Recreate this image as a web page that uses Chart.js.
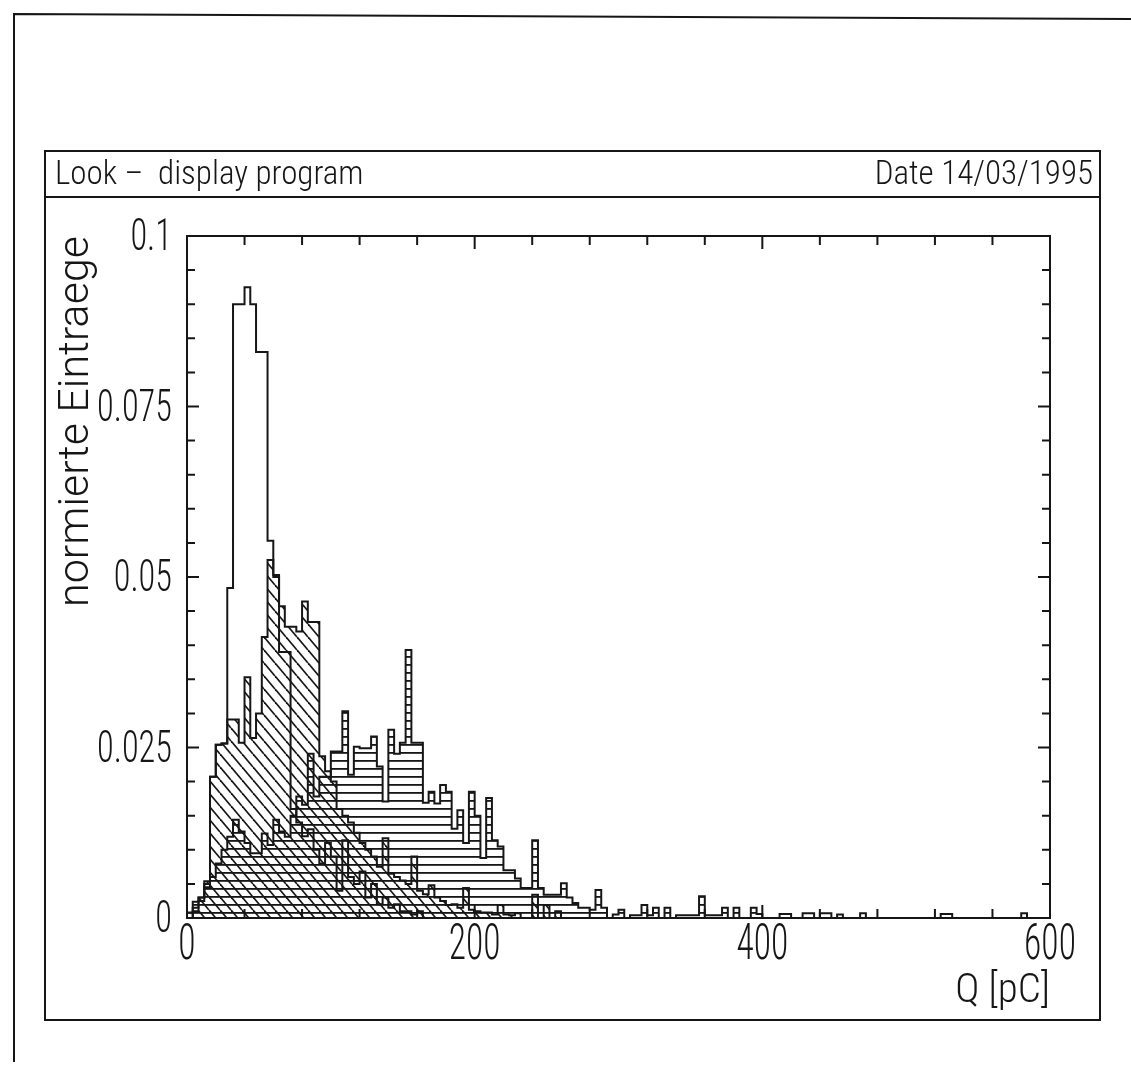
<!DOCTYPE html>
<html><head><meta charset="utf-8">
<script src="https://cdn.jsdelivr.net/npm/chart.js@4.4.1/dist/chart.umd.min.js"></script>
<style>
html,body{margin:0;padding:0;background:#fff;}
#wrap{position:relative;width:1131px;height:1074px;overflow:hidden;background:#fff;}
#c{position:absolute;left:0;top:0;}
.t{position:absolute;font-family:'Roboto Condensed','DejaVu Sans Condensed',sans-serif;font-weight:300;color:#161616;white-space:pre;line-height:1;font-size:33px;top:156px;}
</style></head><body>
<div id="wrap">
<canvas id="c" width="1131" height="1074"></canvas>
<div class="t" style="left:55px;">Look –  display program</div>
<div class="t" style="right:38px;">Date 14/03/1995</div>
</div>
<script>
// ---- data: three normalised histograms, bin width 4 pC, 150 bins (0 .. 600 pC) ----
const BIN_WIDTH = 4;
const X_TICKS = [0, 200, 400, 600];
const Y_TICKS = [0, 0.025, 0.05, 0.075, 0.1];
// open (unhatched) histogram
const seriesOpen = [
0,0.0015,0.0025,0.0050,0.0207,0.0254,0.0256,0.0484,0.0900,0.0900,
0.0925,0.0900,0.0830,0.0830,0.0553,0.0500,0.0390,0.0390,0.0160,0.0140,
0.0120,0.0130,0.0100,0.0080,0.0110,0.0090,0.0040,0.0114,0.0060,0.0050,
0.0068,0.0030,0.0050,0.0020,0.0030,0.0015,0.0020,0.0010,0.0010,0.0005,
0.0010,0,0,0,0,0,0,0,0,0,
0,0,0,0,0,0,0,0,0,0, 0,0,0,0,0,0,0,0,0,0, 0,0,0,0,0,0,0,0,0,0,
0,0,0,0,0,0,0,0,0,0, 0,0,0,0,0,0,0,0,0,0, 0,0,0,0,0,0,0,0,0,0,
0,0,0,0,0,0,0,0,0,0, 0,0,0,0,0,0,0,0,0,0, 0,0,0,0,0,0,0,0,0,0,
0,0,0,0,0,0,0,0,0,0
];
// diagonally hatched histogram
const seriesDiag = [
0,0.0010,0.0030,0.0054,0.0207,0.0254,0.0256,0.0291,0.0291,0.0257,
0.0353,0.0264,0.0300,0.0412,0.0525,0.0503,0.0457,0.0427,0.0427,0.0420,
0.0464,0.0434,0.0434,0.0237,0.0215,0.0200,0.0160,0.0150,0.0140,0.0125,
0.0110,0.0100,0.0090,0.0075,0.0117,0.0065,0.0060,0.0055,0.0050,0.0090,
0.0040,0.0035,0.0048,0.0030,0.0025,0.0019,0.0020,0.0015,0.0044,0.0012,
0.0010,0.0008,0.0008,0.0005,0.0019,0.0005,0.0004,0.0007,0,0,
0.0034,0,0.0019,0,0.0010,0,0,0,0,0,
0,0,0,0,0,0,0,0,0,0, 0,0,0,0,0,0,0,0,0,0, 0,0,0,0,0,0,0,0,0,0,
0,0,0,0,0,0,0,0,0,0, 0,0,0,0,0,0,0,0,0,0, 0,0,0,0,0,0,0,0,0,0,
0,0,0,0,0,0,0,0,0,0, 0,0,0,0,0,0,0,0,0,0
];
// horizontally hatched histogram
const seriesHoriz = [
0.0008,0.0024,0.0030,0.0045,0.0060,0.0080,0.0100,0.0119,0.0144,0.0127,
0.0110,0.0095,0.0095,0.0124,0.0107,0.0144,0.0127,0.0119,0.0150,0.0178,
0.0166,0.0241,0.0178,0.0207,0.0207,0.0244,0.0244,0.0303,0.0210,0.0251,
0.0249,0.0249,0.0266,0.0222,0.0171,0.0276,0.0241,0.0257,0.0393,0.0257,
0.0257,0.0169,0.0185,0.0168,0.0195,0.0185,0.0131,0.0158,0.0110,0.0185,
0.0150,0.0088,0.0176,0.0114,0.0105,0.0070,0.0070,0.0058,0.0044,0.0044,
0.0114,0.0044,0.0034,0.0034,0.0034,0.0051,0.0030,0.0022,0.0015,0.0015,
0.0012,0.0041,0.0015,0,0.0005,0.0012,0,0.0004,0.0004,0.0019,
0.0004,0.0015,0,0.0015,0,0.0004,0.0004,0.0004,0.0004,0.0032,
0.0004,0.0004,0.0004,0.0015,0,0.0015,0,0,0.0015,0.0006,
0,0,0,0.0006,0.0006,0,0,0.0007,0.0007,0,
0.0007,0.0007,0,0.0005,0,0,0,0.0007,0,0,
0,0,0,0,0,0,0,0,0,0,
0,0.0006,0.0006,0,0,0,0,0,0,0,
0,0,0,0,0,0.0007,0,0,0,0
];

// ---- rendering ----
const INK = '#161616';
const NARROW = "'Roboto Condensed','DejaVu Sans Condensed',sans-serif";
const LIGHT = "Roboto,'DejaVu Sans',sans-serif";

function makeHorizPattern(){
  const c = document.createElement('canvas'); c.width = 8; c.height = 8;
  const g = c.getContext('2d'); g.fillStyle = INK; g.fillRect(0,0,8,1.8);
  return g.createPattern(c,'repeat');
}
function makeDiagPattern(){
  const w = 11, h = 13;
  const c = document.createElement('canvas'); c.width = w; c.height = h;
  const g = c.getContext('2d'); g.strokeStyle = INK; g.lineWidth = 1.7;
  for (let dx=-w; dx<=w; dx+=w){ g.beginPath(); g.moveTo(dx,0); g.lineTo(dx+w,h); g.stroke(); }
  return g.createPattern(c,'repeat');
}
function toSteps(vals){
  const pts = [{x:0,y:0}];
  vals.forEach((v,i)=>pts.push({x:i*BIN_WIDTH,y:v}));
  pts.push({x:vals.length*BIN_WIDTH,y:0});
  return pts;
}
function isLabelled(v, list){ return list.some(t=>Math.abs(t-v) < 1e-9); }

// draw the scale's own label items, horizontally condensed around their anchor
function narrowLabels(scale, squeeze, dy){
  if (scale._narrow) return;
  scale._narrow = true;
  scale.drawLabels = function(chartArea){
    const ctx = this.ctx;
    for (const item of this.getLabelItems(chartArea)) {
      if (!item.label) continue;
      const o = item.options;
      ctx.save();
      ctx.translate(o.translation[0], o.translation[1] + dy);
      ctx.rotate(o.rotation);
      ctx.scale(squeeze, 1);
      ctx.font = item.font.string;
      ctx.fillStyle = o.color;
      ctx.textAlign = o.textAlign;
      ctx.textBaseline = o.textBaseline;
      ctx.fillText(item.label, 0, item.textOffset);
      ctx.restore();
    }
  };
}

const framePlugin = {
  id:'frames',
  beforeDraw(chart){
    narrowLabels(chart.scales.x, 0.71, -10);
    narrowLabels(chart.scales.y, 0.78, 3);
    const ctx = chart.ctx;
    ctx.save(); ctx.strokeStyle = INK; ctx.lineWidth = 2;
    ctx.beginPath(); ctx.moveTo(14,1062); ctx.lineTo(14,14); ctx.lineTo(1131,19); ctx.stroke();
    ctx.strokeRect(45,151,1055,869);
    ctx.beginPath(); ctx.moveTo(45,197); ctx.lineTo(1100,197); ctx.stroke();
    ctx.restore();
  },
  afterDraw(chart){
    const {ctx, chartArea:{left,right,top,bottom}, scales:{x,y}} = chart;
    ctx.save(); ctx.strokeStyle = INK; ctx.lineWidth = 2;
    ctx.strokeRect(left,top,right-left,bottom-top);
    ctx.beginPath();
    x.ticks.forEach(t=>{
      const px = x.getPixelForValue(t.value);
      const L = isLabelled(t.value, X_TICKS) ? 13 : 9;
      ctx.moveTo(px,bottom); ctx.lineTo(px,bottom-L);
      ctx.moveTo(px,top); ctx.lineTo(px,top+L);
    });
    y.ticks.forEach(t=>{
      const py = y.getPixelForValue(t.value);
      const L = isLabelled(t.value, Y_TICKS) ? 12 : 8;
      ctx.moveTo(left,py); ctx.lineTo(left+L,py);
      ctx.moveTo(right,py); ctx.lineTo(right-L,py);
    });
    ctx.stroke(); ctx.restore();
  }
};

const common = {stepped:true, borderColor:INK, borderWidth:2, pointRadius:0, tension:0, borderJoinStyle:'miter'};
new Chart(document.getElementById('c'), {
  type:'line',
  data:{datasets:[
    Object.assign({label:'open', data:toSteps(seriesOpen), fill:false}, common),
    Object.assign({label:'diagonal', data:toSteps(seriesDiag), fill:'origin', backgroundColor:makeDiagPattern()}, common),
    Object.assign({label:'horizontal', data:toSteps(seriesHoriz), fill:'origin', backgroundColor:makeHorizPattern()}, common)
  ]},
  options:{
    responsive:false, animation:false, devicePixelRatio:1,
    layout:{padding:{left:50, top:236, right:81, bottom:56}},
    plugins:{legend:{display:false}, tooltip:{enabled:false}},
    scales:{
      x:{type:'linear', min:0, max:600, afterFit:s=>{s.height=100;},
         grid:{display:false, drawTicks:false}, border:{display:false},
         ticks:{stepSize:40, autoSkip:false, maxRotation:0, padding:8, color:INK,
                font:{family:NARROW, size:50, weight:'300'},
                callback:v=>isLabelled(v, X_TICKS) ? String(v) : ''},
         title:{display:true, text:'Q [pC]', align:'end', color:INK,
                font:{family:NARROW, size:41, weight:'300'}, padding:{top:0, bottom:2}}},
      y:{type:'linear', min:0, max:0.1, afterFit:s=>{s.width=137;},
         grid:{display:false, drawTicks:false}, border:{display:false},
         ticks:{stepSize:0.005, autoSkip:false, padding:15, color:INK,
                font:{family:NARROW, size:44, weight:'300'},
                callback:v=>isLabelled(v, Y_TICKS) ? String(+v.toFixed(3)) : ''},
         title:{display:true, text:'normierte Eintraege', align:'end', color:INK,
                font:{family:LIGHT, size:43, weight:'300'}, padding:{top:1, bottom:0}}}
    }
  },
  plugins:[framePlugin]
});
</script>
</body></html>
